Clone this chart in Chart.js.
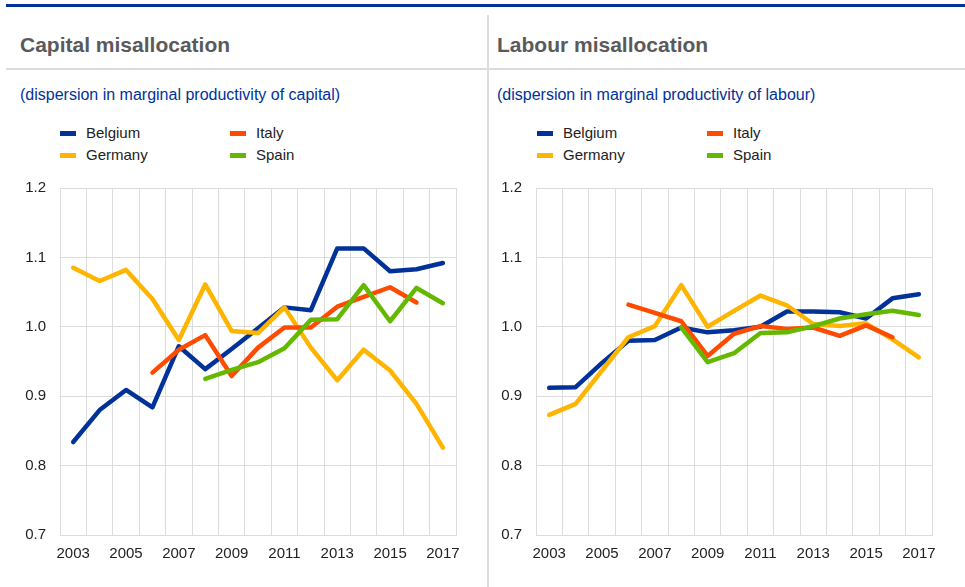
<!DOCTYPE html>
<html><head><meta charset="utf-8">
<script src="https://cdn.jsdelivr.net/npm/chart.js@4/dist/chart.umd.min.js"></script>
<style>
html,body{margin:0;padding:0;background:#fff;width:965px;height:587px;overflow:hidden;font-family:"Liberation Sans",Arial,sans-serif;}
.abs{position:absolute;}
.topbar{left:6px;top:4px;width:959px;height:3px;background:#003299;}
.vdiv{left:487px;top:15px;width:2px;height:572px;background:#dcdcdc;}
.hdiv{left:6px;top:68px;width:959px;height:2px;background:#dcdcdc;}
.title{font-size:21px;line-height:21px;font-weight:bold;color:#5a5a5a;top:34px;white-space:nowrap;}
.sub{font-size:16px;line-height:16px;color:#003299;top:87px;white-space:nowrap;}
.leg{font-size:15px;color:#222;white-space:nowrap;}
.sw{width:16px;height:5px;}
</style></head><body>
<div class="abs topbar"></div>
<div class="abs vdiv"></div>
<div class="abs hdiv"></div>
<div class="abs title" style="left:20px">Capital misallocation</div>
<div class="abs title" style="left:497px">Labour misallocation</div>
<div class="abs sub" style="left:20px">(dispersion in marginal productivity of capital)</div>
<div class="abs sub" style="left:497px">(dispersion in marginal productivity of labour)</div>
<div id="legL"></div><div id="legR"></div>
<canvas id="c1" class="abs" style="left:0px;top:165px;width:470px;height:422px" width="470" height="422"></canvas>
<canvas id="c2" class="abs" style="left:476px;top:165px;width:470px;height:422px" width="470" height="422"></canvas>
<script>
const years = ["2003","2004","2005","2006","2007","2008","2009","2010","2011","2012","2013","2014","2015","2016","2017"];
const seriesNames = ["Belgium","Germany","Italy","Spain"];
const seriesColors = ["#003299","#ffb400","#ff4b00","#65b800"];
const yTicks = [0.7,0.8,0.9,1.0,1.1,1.2];

// Capital misallocation
const capBelgium = [0.834,0.880,0.909,0.884,0.972,0.939,0.968,0.998,1.028,1.024,1.113,1.113,1.080,1.083,1.092];
const capGermany = [1.085,1.066,1.082,1.040,0.981,1.061,0.994,0.991,1.028,0.970,0.923,0.967,0.937,0.889,0.826];
const capItaly   = [null,null,null,0.934,0.967,0.988,0.929,0.970,0.999,0.999,1.029,1.043,1.057,1.035,null];
const capSpain   = [null,null,null,null,null,0.925,0.938,0.949,0.969,1.010,1.011,1.060,1.008,1.056,1.034];

// Labour misallocation
const labBelgium = [0.912,0.913,0.948,0.980,0.981,0.999,0.992,0.995,1.000,1.022,1.022,1.021,1.012,1.041,1.047];
const labGermany = [0.873,0.889,0.937,0.985,1.001,1.060,1.000,1.023,1.045,1.031,1.004,1.001,1.005,0.982,0.956];
const labItaly   = [null,null,null,1.032,1.020,1.008,0.958,0.990,1.001,0.997,0.999,0.987,1.002,0.985,null];
const labSpain   = [null,null,null,null,null,0.999,0.949,0.962,0.991,0.992,1.001,1.012,1.018,1.023,1.017];

function legend(id, left){
  const el = document.getElementById(id);
  const pos = [[0,0],[0,22],[170,0],[170,22]];
  seriesNames.forEach((n,i)=>{
    const p = pos[i];
    const s = document.createElement('div');
    s.className='abs sw'; s.style.left=(left+p[0])+'px'; s.style.top=(131+p[1])+'px'; s.style.background=seriesColors[i];
    el.appendChild(s);
    const t = document.createElement('div');
    t.className='abs leg'; t.style.left=(left+p[0]+26)+'px'; t.style.top=(124+p[1])+'px'; t.textContent=n;
    el.appendChild(t);
  });
}
legend('legL',60);
legend('legR',537);

function makeChart(id, data){
  const ds = data.map((d,i)=>({label:seriesNames[i],data:d,borderColor:seriesColors[i],backgroundColor:seriesColors[i],
    borderWidth:4.5,pointRadius:0,tension:0,spanGaps:false,borderCapStyle:'round',borderJoinStyle:'round',order:[3,2,1,0][i]}));
  new Chart(document.getElementById(id),{
    type:'line',
    data:{labels:years,datasets:ds},
    options:{
      responsive:false,animation:false,
      layout:{padding:{left:0,right:13,top:2,bottom:0}},
      plugins:{legend:{display:false},tooltip:{enabled:false}},
      scales:{
        x:{offset:true,
          grid:{offset:true,color:'#dcdcdc',lineWidth:1,drawTicks:false},
          border:{color:'#dcdcdc'},
          ticks:{autoSkip:false,maxRotation:0,padding:10,color:'#222',font:{family:'"Liberation Sans", Arial',size:15},
            callback:function(v,i){return i%2===0?years[i]:'';}},
          afterFit:function(s){s.height=52;}
        },
        y:{min:0.7,max:1.2,
          afterBuildTicks:function(s){s.ticks=yTicks.map(v=>({value:v}));},
          grid:{color:'#dcdcdc',lineWidth:1,drawTicks:false},
          border:{color:'#dcdcdc'},
          ticks:{padding:14,color:'#222',font:{family:'"Liberation Sans", Arial',size:15},
            callback:function(v){return v.toFixed(1);}},
          afterFit:function(s){s.width=60;}
        }
      }
    }
  });
}
makeChart('c1',[capBelgium,capGermany,capItaly,capSpain]);
makeChart('c2',[labBelgium,labGermany,labItaly,labSpain]);
</script>
</body></html>
